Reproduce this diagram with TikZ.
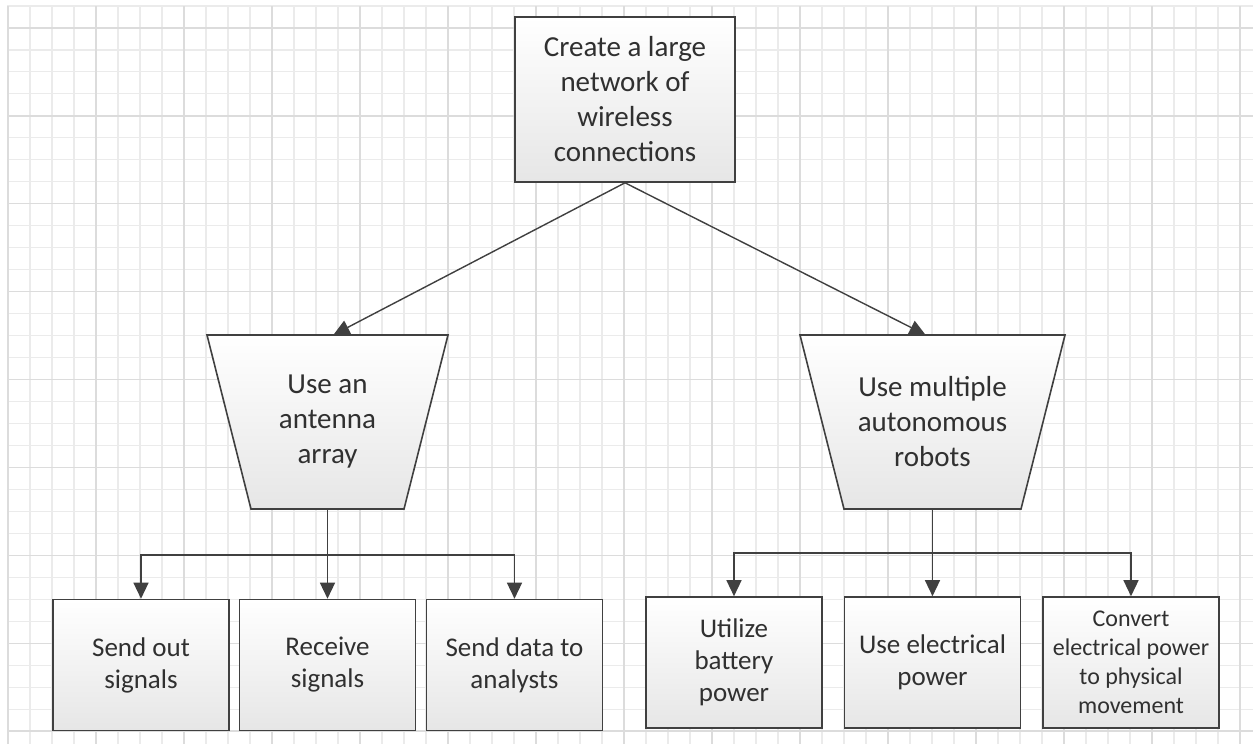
\documentclass[tikz,border=0pt]{standalone}
\usepackage{fontspec}
\setmainfont{Carlito}
\usetikzlibrary{arrows.meta}
\definecolor{ink}{HTML}{404040}
\definecolor{txt}{HTML}{303030}
\definecolor{gridminor}{HTML}{EBEBEB}
\definecolor{gridmajor}{HTML}{DCDCDC}
\definecolor{shadebot}{HTML}{E6E6E6}
\tikzset{
  minorline/.style={draw=gridminor, line width=1.1pt},
  majorline/.style={draw=gridmajor, line width=1.3pt},
  box/.style={draw=ink, line width=1.6pt, top color=white, bottom color=shadebot,
    text=txt, align=center, inner sep=0pt},
  bigfont/.style={font=\fontsize{29}{35}\selectfont},
  taskfont/.style={font=\fontsize{27}{32}\selectfont},
  smallfont/.style={font=\fontsize{24}{29}\selectfont},
  taskbox/.style={box, minimum width=176pt, minimum height=131pt},
  label/.style={text=txt, align=center, inner sep=0pt, bigfont},
  wire/.style={draw=ink, line width=1.4pt},
  link/.style={wire, -{Triangle[length=16pt,width=15pt]}},
}
\begin{document}
\begin{tikzpicture}[x=1pt, y=-1pt]
  % page and graph paper
  \useasboundingbox (0,0) rectangle (1253,744);
  \fill[white] (0,0) rectangle (1253,744);
  \foreach \k in {0,...,56}
    \draw[minorline] ({8+22*\k},6) -- ({8+22*\k},744);
  \foreach \j in {-1,...,32}
    \draw[minorline] (7,{28+21.97*\j}) -- (1253,{28+21.97*\j});
  \foreach \k in {0,4,...,56}
    \draw[majorline] ({8+22*\k},6) -- ({8+22*\k},744);
  \foreach \j in {0,4,...,32}
    \draw[majorline] (7,{28+21.97*\j}) -- (1253,{28+21.97*\j});

  % goal
  \node[box, bigfont, minimum width=220pt, minimum height=165pt] (goal) at (625,99.5)
    {Create a large\\network of\\wireless\\connections};

  % the two approaches (inverted trapezoids)
  \path[box] (207,335) -- (448,335) -- (404,509) -- (251,509) -- cycle;
  \node[label, minimum width=241pt, minimum height=174pt] (antenna) at (327.5,422)
    {Use an\\antenna\\array};
  \path[box] (800,335) -- (1065,335) -- (1021,509) -- (844,509) -- cycle;
  \node[label, minimum width=265pt, minimum height=174pt] (robots) at (932.5,422)
    {Use multiple\\autonomous\\robots};

  % tasks
  \node[taskbox, taskfont] (send) at (141,665) {Send out\\signals};
  \node[taskbox, taskfont] (recv) at (327.5,665) {Receive\\signals};
  \node[taskbox, taskfont] (data) at (514.5,665) {Send data to\\analysts};
  \node[taskbox, taskfont] (battery) at (734,662.5) {Utilize\\battery\\power};
  \node[taskbox, taskfont] (elec) at (932.5,662.5) {Use electrical\\power};
  \node[taskbox, smallfont] (conv) at (1131,662.5)
    {Convert\\electrical power\\to physical\\movement};

  % connectors
  \draw[link] (goal.south) -- ([xshift=6pt]antenna.north);
  \draw[link] (goal.south) -- ([xshift=-7pt]robots.north);

  \coordinate (busA) at (327.5,555);
  \draw[wire] (antenna.south) -- (busA);
  \draw[link] (busA) -| (send.north);
  \draw[link] (busA) -- (recv.north);
  \draw[link] (busA) -| (data.north);

  \coordinate (busR) at (932.5,553);
  \draw[wire] (robots.south) -- (busR);
  \draw[link] (busR) -| (battery.north);
  \draw[link] (busR) -- (elec.north);
  \draw[link] (busR) -| (conv.north);
\end{tikzpicture}
\end{document}
